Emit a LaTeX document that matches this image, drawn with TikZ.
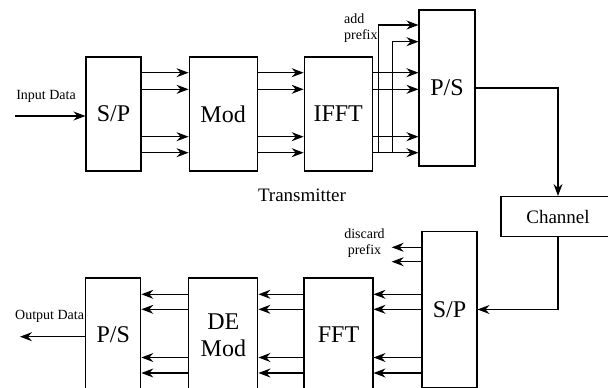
\documentclass[tikz,border=0pt]{standalone}
\usepackage{fontspec}
\setmainfont{Liberation Serif}
\usetikzlibrary{arrows.meta,positioning}

\begin{document}
\begin{tikzpicture}[
    x=1pt, y=-1pt,
    node distance=46pt,
    block/.style={rectangle, draw, line width=1.1pt, inner sep=0pt, minimum width=68pt, minimum height=114pt, align=center, font=\fontsize{24}{27}\selectfont},
    arrow/.style={-{Stealth[length=12pt,width=9pt,inset=4pt]}, line width=1.1pt},
    note/.style={font=\fontsize{14}{16}\selectfont, inner sep=0pt, align=center},
    caption/.style={font=\fontsize{19}{22}\selectfont, inner sep=0pt}
  ]
  \useasboundingbox (0,0) rectangle (608,388);
  % transmitter
  \node[block, minimum width=55pt] (sptx) at (113.5,114) {S/P};
  \node[block, right=47pt of sptx] (mod) {Mod};
  \node[block, right=46pt of mod] (ifft) {IFFT};
  \node[block, minimum width=56pt, minimum height=156pt] (pstx) at (447,88) {P/S};
  \node[caption] (tx) at (302,195) {Transmitter};
  % channel
  \node[block, minimum width=114pt, minimum height=40pt, font=\fontsize{19}{22}\selectfont] (chan) at (558,216.5) {Channel};
  % receiver
  \node[block, minimum width=55pt, minimum height=156pt] (sprx) at (449.5,309.5) {S/P};
  \node[block, minimum width=69pt] (fft) at (338.5,335) {FFT};
  \node[block, minimum width=69pt, left=45pt of fft] (demod) {DE\\Mod};
  \node[block, minimum width=55pt, left=47pt of demod] (psrx) {P/S};
  % labels
  \node[note, anchor=east] (inlbl) at (76,96.7) {Input Data};
  \node[note, anchor=west] (outlbl) at (15,316) {Output Data};
  \node[note, anchor=north west, align=left] (addlbl) at (344,14) {add\\prefix};
  \node[note] (dislbl) at (364.5,243) {discard\\prefix};

  % transmitter links
  \coordinate (in) at (15,116);
  \draw[arrow] (in) -- (in -| sptx.west);
  \foreach \dy/\n in {41.3/1,24.7/2,-22.7/3,-38.7/4} {
    \draw[arrow] ([yshift=\dy pt]sptx.east) -- ([yshift=\dy pt]mod.west);
    \draw[arrow] ([yshift=\dy pt]mod.east) -- ([yshift=\dy pt]ifft.west);
    \coordinate (t\n) at ([yshift=\dy pt]ifft.east);
    \draw[arrow] (t\n) -- (t\n -| pstx.west);
  }
  \draw[arrow] ([xshift=6pt]t4) |- ([yshift=63pt]pstx.west);
  \draw[arrow] ([xshift=19.5pt]t4) |- ([yshift=46.3pt]pstx.west);
  \draw[arrow] (pstx.east) -| (chan.north);
  \draw[arrow] (chan.south) |- (sprx.east);

  % receiver links
  \foreach \dy/\n in {40.7/1,25.7/2,-22.5/3,-38/4} {
    \coordinate (r\n) at ([yshift=\dy pt]fft.east);
    \draw[arrow] (r\n -| sprx.west) -- (r\n);
    \draw[arrow] ([yshift=\dy pt]fft.west) -- ([yshift=\dy pt]demod.east);
    \draw[arrow] ([yshift=\dy pt]demod.west) -- ([yshift=\dy pt]psrx.east);
  }
  \coordinate (d1) at (391.7,247.3);
  \coordinate (d2) at (391.7,261.7);
  \draw[arrow] (d1 -| sprx.west) -- (d1);
  \draw[arrow] (d2 -| sprx.west) -- (d2);
  \coordinate (out) at (20,336.7);
  \draw[arrow] (out -| psrx.west) -- (out);
\end{tikzpicture}
\end{document}
